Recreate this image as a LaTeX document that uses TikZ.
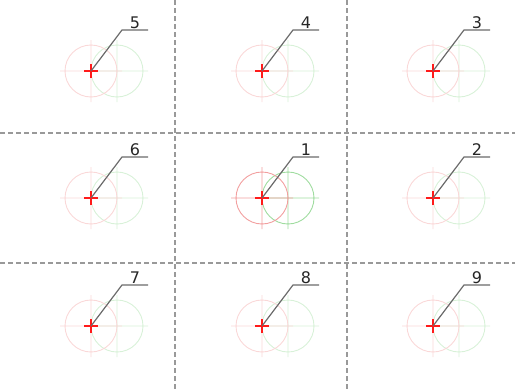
\documentclass[tikz,border=0pt]{standalone}
\usepackage{fontspec}
\setmainfont{DejaVu Sans}
\usetikzlibrary{positioning}
\definecolor{crossred}{HTML}{FF1A1A}
\definecolor{leadgray}{HTML}{6A6A6A}
\definecolor{gridgray}{HTML}{999999}
\definecolor{ringred}{HTML}{E85050}
\definecolor{ringgreen}{HTML}{50C050}

\begin{document}
\begin{tikzpicture}[x=1pt, y=-1pt,
    gridline/.style={gridgray, dash pattern=on 5pt off 3pt, line width=1.1pt},
    ring/.style={line width=0.9pt},
    leader/.style={leadgray, line width=1.2pt},
    tag/.style={inner sep=1.5pt, text=black!85, font=\fontsize{16}{19}\selectfont}]
    \useasboundingbox (0,0) rectangle (515,389);
    % Cell borders
    \draw[gridline] (175,0) -- (175,389) (347,0) -- (347,389);
    \draw[gridline] (0,133) -- (515,133) (0,263) -- (515,263);
    % Cells: number / centre / ring strength
    \foreach \n/\cx/\cy/\op in {5/91/71/22, 4/262/71/22, 3/433/71/22,
                                6/91/198/22, 1/262/198/55, 2/433/198/22,
                                7/91/326/22, 8/262/326/22, 9/433/326/22} {
        \coordinate (ctr\n) at (\cx,\cy);
        \coordinate[right=26pt of ctr\n] (gc\n);
        % green ring
        \draw[ring, ringgreen!\op] (gc\n) circle[radius=26]
            ([xshift=-31pt]gc\n) -- ([xshift=31pt]gc\n)
            ([yshift=-31pt]gc\n) -- ([yshift=31pt]gc\n);
        % red ring
        \draw[ring, ringred!\op] (ctr\n) circle[radius=26]
            ([xshift=-31pt]ctr\n) -- ([xshift=31pt]ctr\n)
            ([yshift=-31pt]ctr\n) -- ([yshift=31pt]ctr\n);
        % marker
        \draw[crossred, line width=1.4pt] ([xshift=-7pt]ctr\n) -- ([xshift=7pt]ctr\n)
            ([yshift=-7pt]ctr\n) -- ([yshift=7pt]ctr\n);
        % leader and number
        \coordinate[above right=41pt and 31pt of ctr\n] (elb\n);
        \coordinate[right=26pt of elb\n] (end\n);
        \draw[leader] (ctr\n) -- (elb\n) -- (end\n);
        \path (elb\n) -- (end\n) node[midway, above, tag] (lab\n) {\n};
    }
\end{tikzpicture}
\end{document}
